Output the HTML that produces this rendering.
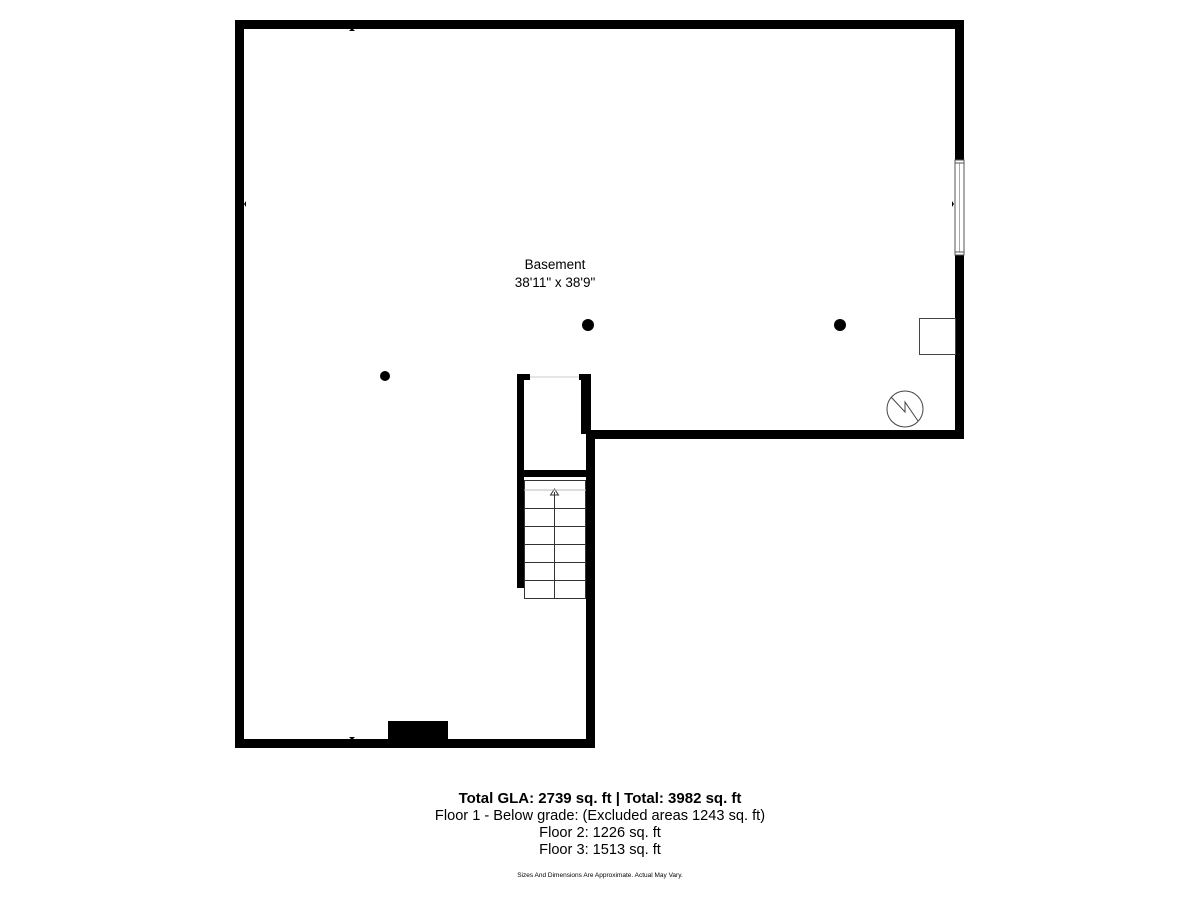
<!DOCTYPE html>
<html><head><meta charset="utf-8"><style>
html,body{margin:0;padding:0;background:#fff;width:1200px;height:900px;overflow:hidden}
svg{display:block}
text{font-family:"Liberation Sans",sans-serif;fill:#000}
</style></head><body>
<svg width="1200" height="900" viewBox="0 0 1200 900" xmlns="http://www.w3.org/2000/svg">
<g fill="#000">
<rect x="235" y="20" width="729" height="9"/>
<rect x="235" y="20" width="9" height="728"/>
<rect x="955" y="20" width="9" height="419"/>
<rect x="586" y="430" width="378" height="9"/>
<rect x="586" y="430" width="9" height="318"/>
<rect x="235" y="739" width="360" height="9"/>
<rect x="388" y="721" width="60" height="27"/>
<rect x="517" y="374" width="7" height="214"/>
<rect x="517" y="374" width="13" height="6"/>
<rect x="579" y="374" width="12" height="6"/>
<rect x="581" y="374" width="10" height="60"/>
<rect x="517" y="470" width="74" height="7"/>
<circle cx="588" cy="325" r="6"/>
<circle cx="840" cy="325" r="6"/>
<circle cx="385" cy="376" r="5"/>
</g>
<line x1="530" y1="377" x2="579" y2="377" stroke="#ccc" stroke-width="1"/>
<rect x="955" y="160" width="9" height="95" fill="#fff" stroke="#555" stroke-width="1"/>
<line x1="959.5" y1="163" x2="959.5" y2="252" stroke="#aaa" stroke-width="1"/>
<line x1="955" y1="163" x2="964" y2="163" stroke="#555"/>
<line x1="955" y1="252" x2="964" y2="252" stroke="#555"/>
<g stroke="#333" stroke-width="1" fill="none">
<rect x="524.5" y="480.5" width="61" height="118"/>
<line x1="554.5" y1="492" x2="554.5" y2="598"/>
<line x1="524" y1="508.5" x2="586" y2="508.5"/>
<line x1="524" y1="526.5" x2="586" y2="526.5"/>
<line x1="524" y1="544.5" x2="586" y2="544.5"/>
<line x1="524" y1="562.5" x2="586" y2="562.5"/>
<line x1="524" y1="580.5" x2="586" y2="580.5"/>
<path d="M550.5 495 L554.5 489 L558.5 495 Z"/>
</g>
<line x1="524" y1="490" x2="586" y2="490" stroke="#bbb"/>
<rect x="919.5" y="318.5" width="36" height="36" fill="none" stroke="#444"/>
<circle cx="905" cy="409" r="18" fill="none" stroke="#444"/>
<path d="M891 397 L905 412 L905 402 L918 421" fill="none" stroke="#444"/>
<path d="M349 31 L352 28 L355 31 Z M349 737 L352 740 L355 737 Z M246 201 L244 204 L246 207 Z M952 201 L954 204 L952 207 Z" fill="#000"/>
<text x="555" y="269" font-size="13.5" text-anchor="middle" fill="#333">Basement</text>
<text x="555" y="287" font-size="13.5" text-anchor="middle" fill="#333">38'11" x 38'9"</text>
<text x="600" y="803" font-size="15" font-weight="bold" text-anchor="middle">Total GLA: 2739 sq. ft | Total: 3982 sq. ft</text>
<text x="600" y="820" font-size="14.6" text-anchor="middle">Floor 1 - Below grade: (Excluded areas 1243 sq. ft)</text>
<text x="600" y="837" font-size="14.6" text-anchor="middle">Floor 2: 1226 sq. ft</text>
<text x="600" y="854" font-size="14.6" text-anchor="middle">Floor 3: 1513 sq. ft</text>
<text x="600" y="877" font-size="6.5" text-anchor="middle">Sizes And Dimensions Are Approximate. Actual May Vary.</text>
</svg>
</body></html>
